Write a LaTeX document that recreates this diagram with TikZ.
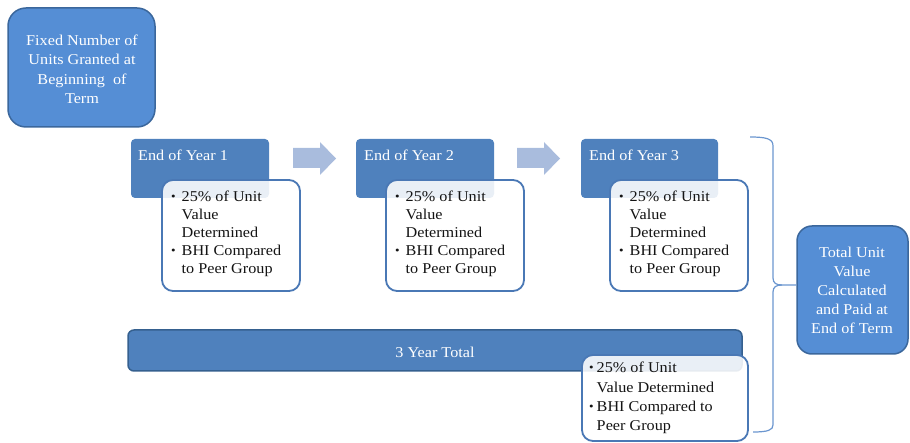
\documentclass[tikz,border=0pt]{standalone}
\usepackage{fontspec}
\setmainfont{Liberation Serif}[FakeStretch=1.08]
\definecolor{boxblue}{HTML}{558ED5}
\definecolor{boxedge}{HTML}{3B679C}
\definecolor{hdrblue}{HTML}{4F81BD}
\definecolor{baredge}{HTML}{35608F}
\definecolor{wedge}{HTML}{4A78B5}
\definecolor{arrblue}{HTML}{A9BCDD}
\definecolor{brblue}{HTML}{6B96CF}
\definecolor{txt}{HTML}{141414}
\newcommand{\bul}{\raisebox{1pt}{\fontsize{12}{12}\selectfont\textbullet}}
\newcommand{\blistA}{{\fontsize{15}{18}\selectfont\begin{tabular}{@{}l@{\hspace{6pt}}l@{}}\bul & 25\% of Unit\\ & Value\\ & Determined\\ \bul & BHI Compared\\ & to Peer Group\end{tabular}}}
\newcommand{\blistB}{{\fontsize{15}{19.3}\selectfont\begin{tabular}{@{}l@{\hspace{3pt}}l@{}}\bul & 25\% of Unit\\ & Value Determined\\ \bul & BHI Compared to\\ & Peer Group\end{tabular}}}
\begin{document}
\begin{tikzpicture}[x=1pt,y=-1pt,
  bigbox/.style={draw=boxedge, line width=1.5pt, fill=boxblue, rounded corners=18pt, inner sep=0pt},
  hdr/.style={fill=hdrblue, rounded corners=4pt, inner sep=0pt},
  wbox/.style={draw=wedge, line width=1.8pt, fill=white, fill opacity=0.88, rounded corners=11pt, inner sep=0pt},
  bar/.style={draw=baredge, line width=1.5pt, fill=hdrblue, rounded corners=6pt, inner sep=0pt},
  wtxt/.style={text=white, font=\fontsize{15}{19.5}\selectfont, align=center, inner sep=0pt},
  htxt/.style={text=white, font=\fontsize{15}{18}\selectfont, anchor=west, inner sep=0pt},
  btxt/.style={text=txt, anchor=west, inner sep=0pt},
  arr/.style={fill=arrblue},
  brace/.style={draw=brblue, line width=1.2pt}
]
\useasboundingbox (0,0) rectangle (910,443);

% top-left box
\node[bigbox, minimum width=147pt, minimum height=119pt] (start) at (81.5,67.5) {};
\node[wtxt] (starttxt) at (82,69.5) {Fixed Number of\\Units Granted at\\Beginning~ of\\Term};

% headers
\node[hdr, minimum width=138pt, minimum height=59pt] (h1) at (200,168.5) {};
\node[hdr, minimum width=138pt, minimum height=59pt] (h2) at (425,168.5) {};
\node[hdr, minimum width=137pt, minimum height=59pt] (h3) at (649.5,168.5) {};
\node[htxt] (h1t) at (138,155) {End of Year 1};
\node[htxt] (h2t) at (364,155) {End of Year 2};
\node[htxt] (h3t) at (589,155) {End of Year 3};

% arrows
\path[arr] (293,148) -- (320,148) -- (320,142) -- (336,158.5) -- (320,175) -- (320,168) -- (293,168) -- cycle;
\path[arr] (517,148) -- (544,148) -- (544,142) -- (560,158.5) -- (544,175) -- (544,168) -- (517,168) -- cycle;

% white bullet boxes
\node[wbox, minimum width=138pt, minimum height=111pt] (w1) at (231,235.5) {};
\node[wbox, minimum width=138pt, minimum height=111pt] (w2) at (455,235.5) {};
\node[wbox, minimum width=138pt, minimum height=111pt] (w3) at (679,235.5) {};
\node[btxt] (w1t) at (171,234) {\blistA};
\node[btxt] (w2t) at (395,234) {\blistA};
\node[btxt] (w3t) at (619,234) {\blistA};

% 3 year total bar
\node[bar, minimum width=614pt, minimum height=41pt] (tot) at (435,350.5) {};
\node[text=white, font=\fontsize{15}{18}\selectfont, inner sep=0pt] (tott) at (435,352) {3 Year Total};
\node[wbox, minimum width=166pt, minimum height=86pt] (w4) at (665,398) {};
\node[btxt] (w4t) at (589,398) {\blistB};

% right box
\node[bigbox, minimum width=111pt, minimum height=128pt, rounded corners=15pt] (fin) at (852.5,290) {};
\node[wtxt, font=\fontsize{15}{19}\selectfont] (fint) at (852,290) {Total Unit\\Value\\Calculated\\and Paid at\\End of Term};

% brace
\coordinate (bt) at (750,137);
\coordinate (bb) at (753,432);
\coordinate (btip) at (fin.west |- 0,285);
\draw[brace] (bt) .. controls (767,137) and (773,139) .. (773,146) -- (773,278)
  .. controls (773,283) and (776,285) .. (782,285) -- (btip);
\draw[brace] (782,285) .. controls (776,285) and (773,287) .. (773,292) -- (773,425)
  .. controls (773,430) and (768,432) .. (bb);
\end{tikzpicture}
\end{document}
